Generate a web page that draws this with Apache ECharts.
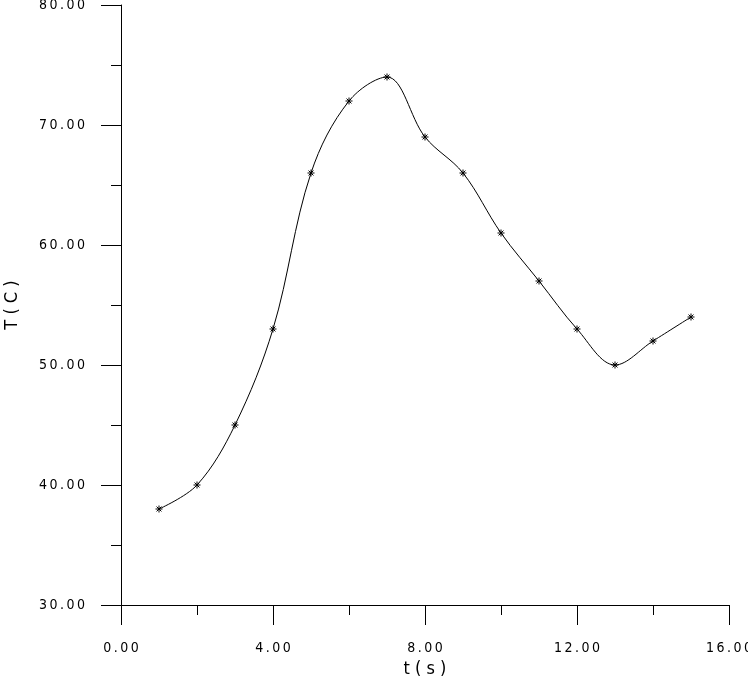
<!DOCTYPE html>
<html>
<head>
<meta charset="utf-8">
<script src="https://cdn.jsdelivr.net/npm/echarts@6/dist/echarts.min.js"></script>
<style>
  html, body { margin: 0; padding: 0; background: #fff; }
  #chart { width: 748px; height: 686px; }
</style>
</head>
<body>
<div id="chart"></div>
<script>
const timeS = [1, 2, 3, 4, 5, 6, 7, 8, 9, 10, 11, 12, 13, 14, 15]
const tempC = [38, 40, 45, 53, 66, 72, 74, 69, 66, 61, 57, 53, 50, 52, 54]

const xName = 't ( s )'
const yName = 'T ( C )'

// old plotter style: spaced out digits
const spaced = (v) => v.toFixed(2).split('').join('\u2009')
const font = '"DejaVu Sans Condensed", "Liberation Sans Narrow", sans-serif'

// asterisk marker
const star = 'path://M0,-5L0,5M-5,0L5,0M-3.5,-3.5L3.5,3.5M-3.5,3.5L3.5,-3.5'

const chart = echarts.init(document.getElementById('chart'))

// long ticks + labels
const majorAxis = (o) => ({
  type: 'value',
  nameLocation: 'middle',
  nameTextStyle: { fontFamily: font, fontSize: 18, color: '#000' },
  axisLine: { show: true, onZero: false, lineStyle: { color: '#000', width: 1 } },
  axisTick: { show: true, length: 20, lineStyle: { color: '#000', width: 1 } },
  splitLine: { show: false },
  axisLabel: {
    margin: 36,
    color: '#000',
    fontFamily: font,
    fontSize: 14,
    formatter: spaced,
    showMinLabel: true,
    showMaxLabel: true,
  },
  ...o,
})

// short ticks only
const minorAxis = (o) => ({
  type: 'value',
  axisLine: { show: false, onZero: false },
  axisTick: { show: true, length: 10, lineStyle: { color: '#000', width: 1 } },
  axisLabel: { show: false },
  splitLine: { show: false },
  ...o,
})

chart.setOption({
  animation: false,
  backgroundColor: '#fff',
  grid: { left: 121, right: 19, top: 5, bottom: 81, containLabel: false, outerBoundsMode: 'none' },
  xAxis: [
    majorAxis({ name: xName, nameGap: 54, min: 0, max: 16, interval: 4 }),
    minorAxis({ min: 0, max: 16, interval: 2, position: 'bottom' }),
  ],
  yAxis: [
    majorAxis({ name: yName, nameGap: 100, min: 30, max: 80, interval: 10 }),
    minorAxis({ min: 30, max: 80, interval: 5, position: 'left' }),
  ],
  series: [
    {
      type: 'line',
      data: timeS.map((t, i) => [t, tempC[i]]),
      smooth: 0.35,
      symbol: star,
      symbolSize: 7,
      itemStyle: { color: 'transparent', borderColor: '#000', borderWidth: 1 },
      lineStyle: { color: '#000', width: 1 },
    },
  ],
})
</script>
</body>
</html>
